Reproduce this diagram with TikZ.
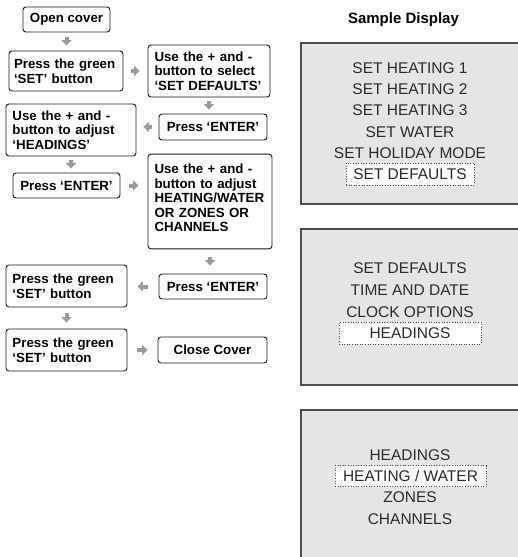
\documentclass[tikz,border=0pt]{standalone}
\usepackage{fontspec}
\setmainfont{Liberation Sans}
\usepackage{tikz}
\usetikzlibrary{positioning, arrows.meta, calc}
\definecolor{stepLine}{HTML}{1A1A1A}
\definecolor{arrowGrey}{HTML}{9A9A9A}
\definecolor{panelFill}{HTML}{E4E5E7}
\definecolor{panelLine}{HTML}{4D4D4D}
\definecolor{displayText}{HTML}{2B2B2B}

\begin{document}
\begin{tikzpicture}[x=1pt, y=-1pt,
        every node/.style={font=\fontsize{13.3}{14.5}\selectfont\bfseries},
        stepbox/.style={rectangle, rounded corners=3pt, draw=stepLine, line width=0.9pt,
                        inner xsep=6.5pt, inner ysep=6pt, align=left},
        stepone/.style={stepbox, align=center, inner sep=2pt},
        flowarr/.style={-{Triangle[width=10pt, length=5.5pt]}, arrowGrey, line width=4pt},
        panel/.style={fill=panelFill, draw=panelLine, line width=1.5pt},
        disptext/.style={font=\fontsize{15.5}{18}\selectfont\mdseries, text=displayText, inner sep=1pt},
        dispsel/.style={disptext, fill=white, draw=panelLine, dotted, line width=0.6pt,
                        minimum height=22pt},
      ]
        \useasboundingbox (0,0) rectangle (518,557);
        \clip (0,0) rectangle (518,557);

        % Flow steps
        \node[stepone, minimum width=87pt, minimum height=25pt] (open) at (66.5,19.5) {Open cover};
        \node[stepbox, text width=104pt, inner xsep=5pt, minimum height=40pt] (green1) at (66,71)
            {Press the green\\‘SET’ button};
        \node[stepbox, text width=109pt, minimum height=52pt] (select) at (209,71)
            {Use the + and -\\button to select\\‘SET DEFAULTS’};
        \node[stepone, minimum width=108pt, minimum height=26pt] (enter1) at (213,127) {Press ‘ENTER’};
        \node[stepbox, text width=117pt, minimum height=52pt] (headings) at (71,130)
            {Use the + and -\\button to adjust\\‘HEADINGS’};
        \node[stepone, minimum width=107pt, minimum height=25pt] (enter2) at (66.5,185.5) {Press ‘ENTER’};
        \node[stepbox, text width=111pt, inner ysep=10pt, text depth=65pt] (adjust) at (210,201.5)
            {Use the + and -\\button to adjust\\HEATING/WATER\\OR ZONES OR\\CHANNELS};
        \node[stepone, minimum width=108pt, minimum height=25pt] (enter3) at (213,286.5) {Press ‘ENTER’};
        \node[stepbox, text width=108pt, minimum height=42pt] (green2) at (66.5,286)
            {Press the green\\‘SET’ button};
        \node[stepbox, text width=108pt, minimum height=42pt] (green3) at (66.5,350)
            {Press the green\\‘SET’ button};
        \node[stepone, minimum width=109pt, minimum height=26pt] (close) at (212.5,350) {Close Cover};

        % Grey arrows between steps
        \draw[flowarr, shorten <=5pt, shorten >=5pt] (open.south) -- (open.south |- green1.north);
        \draw[flowarr, shorten <=8pt, shorten >=8pt] (green1.east) -- (green1.east -| select.west);
        \draw[flowarr, shorten <=4pt, shorten >=4pt] (select.south) -- (select.south |- enter1.north);
        \draw[flowarr, shorten <=7pt, shorten >=7pt] (enter1.west) -- (enter1.west -| headings.east);
        \draw[flowarr, shorten <=4pt, shorten >=4pt] (headings.south) -- (headings.south |- enter2.north);
        \draw[flowarr, shorten <=9pt, shorten >=9pt] (enter2.east) -- (enter2.east -| adjust.west);
        \draw[flowarr, shorten <=8pt, shorten >=8pt] (adjust.south) -- (adjust.south |- enter3.north);
        \draw[flowarr, shorten <=11pt, shorten >=10pt] (enter3.west) -- (enter3.west -| green2.east);
        \draw[flowarr, shorten <=6pt, shorten >=6pt] (green2.south) -- (green3.north);
        \draw[flowarr, shorten <=10pt, shorten >=10pt] (green3.east) -- (green3.east -| close.west);

        % Sample display
        \node[font=\fontsize{15}{18}\selectfont\bfseries] (title) at (403.5,20) {Sample Display};

        \draw[panel] (301,43) rectangle (540,204);
        \node[disptext] (menuA) at (410,68) {SET HEATING 1};
        \node[disptext] (menuB) at (410,89) {SET HEATING 2};
        \node[disptext] (menuC) at (410,110) {SET HEATING 3};
        \node[disptext] (menuD) at (410,132) {SET WATER};
        \node[disptext] (menuE) at (410,153) {SET HOLIDAY MODE};
        \node[dispsel, minimum width=128pt] (menuF) at (410,174) {SET DEFAULTS};

        \draw[panel] (301,229) rectangle (540,385);
        \node[disptext] (defA) at (410,268) {SET DEFAULTS};
        \node[disptext] (defB) at (410,290) {TIME AND DATE};
        \node[disptext] (defC) at (410,312) {CLOCK OPTIONS};
        \node[dispsel, minimum width=142pt] (defD) at (410,333) {HEADINGS};

        \draw[panel] (301,410) rectangle (540,580);
        \node[disptext] (headA) at (410,455) {HEADINGS};
        \node[dispsel, minimum width=151pt, minimum height=21pt] (headB) at (410.5,476) {HEATING / WATER};
        \node[disptext] (headC) at (410,497) {ZONES};
        \node[disptext] (headD) at (410,519) {CHANNELS};
      \end{tikzpicture}
\end{document}
